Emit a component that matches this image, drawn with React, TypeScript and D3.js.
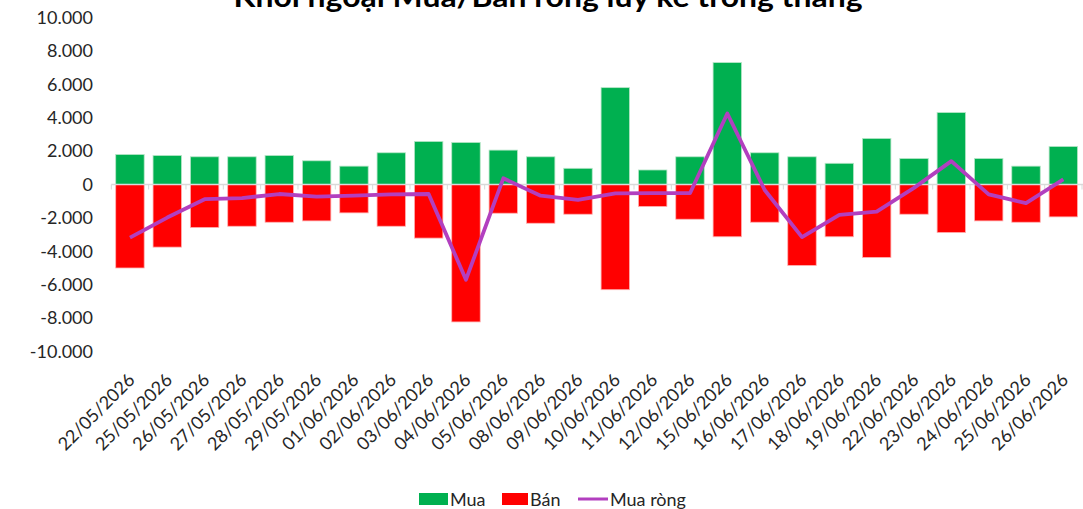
import React from "react";
import * as d3 from "d3";

const dates = [
  "22/05/2026", "25/05/2026", "26/05/2026", "27/05/2026", "28/05/2026", "29/05/2026",
  "01/06/2026", "02/06/2026", "03/06/2026", "04/06/2026", "05/06/2026", "08/06/2026",
  "09/06/2026", "10/06/2026", "11/06/2026", "12/06/2026", "15/06/2026", "16/06/2026",
  "17/06/2026", "18/06/2026", "19/06/2026", "22/06/2026", "23/06/2026", "24/06/2026",
  "25/06/2026", "26/06/2026",
];

// Mua (buy)
const buy = [
  1800, 1740, 1660, 1660, 1740, 1420, 1100, 1900, 2580, 2520, 2060, 1660, 970,
  5800, 870, 1660, 7300, 1900, 1660, 1270, 2760, 1560, 4310, 1560, 1100, 2280,
];

// Bán (sell)
const sell = [
  -5000, -3750, -2580, -2500, -2260, -2180, -1700, -2500, -3210, -8230, -1720, -2320, -1780,
  -6300, -1320, -2080, -3130, -2260, -4850, -3130, -4370, -1780, -2880, -2180, -2260, -1940,
];

// Mua ròng (net)
const net = [
  -3180, -1980, -880, -810, -570, -730, -670, -590, -570, -5700, 370, -670, -920,
  -530, -520, -520, 4250, -330, -3150, -1820, -1620, -200, 1400, -590, -1120, 310,
];

const yTicks = [10000, 8000, 6000, 4000, 2000, 0, -2000, -4000, -6000, -8000, -10000];

const W = 1083;
const H = 509;
const FONT = "Lato, 'Noto Sans', sans-serif";

const fmt = (v: number) => (v === 0 ? "0" : d3.format(",")(v).replace(/,/g, ".").replace("−", "-"));

export default function App() {
  const x = d3
    .scaleBand()
    .domain(dates)
    .range([111.3, 1082])
    .paddingInner(0.237)
    .paddingOuter(0.118);

  const y = d3.scaleLinear().domain([-10000, 10000]).range([351.5, 17.5]);

  const cx = (d: string) => (x(d) as number) + x.bandwidth() / 2;

  const line = d3
    .line<number>()
    .x((_, i) => cx(dates[i]))
    .y(d => y(d));

  const step = x.step();
  const x0 = x.range()[0];

  return (
    <svg
      width={W}
      height={H}
      style={{ position: "absolute", left: 0, top: 0, background: "#fff" }}
      fontFamily={FONT}
    >
      {/* title, partly above the top edge as in the source */}
      <text
        x={548}
        y={7}
        textAnchor="middle"
        fontSize={28}
        fontWeight="bold"
        fill="#000"
        textLength={629}
        lengthAdjust="spacingAndGlyphs"
      >
        Khối ngoại Mua/Bán ròng lũy kế trong tháng
      </text>

      {/* y axis labels */}
      {yTicks.map(t => (
        <text
          key={t}
          x={93}
          y={y(t)}
          dy="0.35em"
          textAnchor="end"
          fontSize={18}
          fill="#262626"
        >
          {fmt(t)}
        </text>
      ))}

      {/* bars */}
      {dates.map((d, i) => (
        <rect
          key={"b" + d}
          x={x(d)}
          y={y(buy[i])}
          width={x.bandwidth()}
          height={y(0) - y(buy[i])}
          fill="#00b050"
          stroke="#b8e6c9"
          strokeWidth={0.8}
        />
      ))}
      {dates.map((d, i) => (
        <rect
          key={"s" + d}
          x={x(d)}
          y={y(0)}
          width={x.bandwidth()}
          height={y(sell[i]) - y(0)}
          fill="#ff0000"
          stroke="#ffb3b3"
          strokeWidth={0.8}
        />
      ))}

      {/* category axis at zero */}
      <line x1={x0} x2={W} y1={y(0)} y2={y(0)} stroke="#d9d9d9" strokeWidth={1.5} />
      {d3.range(dates.length + 1).map(i => (
        <line
          key={"t" + i}
          x1={x0 + i * step}
          x2={x0 + i * step}
          y1={y(0)}
          y2={y(0) + 5}
          stroke="#d9d9d9"
          strokeWidth={1}
        />
      ))}

      {/* net line */}
      <path
        d={line(net) || ""}
        fill="none"
        stroke="#b23fbf"
        strokeWidth={3.8}
        strokeLinejoin="round"
      />

      {/* x labels */}
      {dates.map(d => (
        <text
          key={"l" + d}
          transform={`translate(${cx(d) + 6},381) rotate(-45)`}
          textAnchor="end"
          fontSize={18}
          fill="#262626"
        >
          {d}
        </text>
      ))}

      {/* legend */}
      <rect x={419} y={493} width={29} height={12} fill="#00b050" />
      <text x={450} y={506} fontSize={18} fill="#262626">Mua</text>
      <rect x={502} y={493} width={26} height={12} fill="#ff0000" />
      <text x={530} y={506} fontSize={18} fill="#262626">Bán</text>
      <line x1={578} x2={608} y1={499} y2={499} stroke="#b23fbf" strokeWidth={3} />
      <text x={610} y={506} fontSize={18} fill="#262626">Mua ròng</text>
    </svg>
  );
}
